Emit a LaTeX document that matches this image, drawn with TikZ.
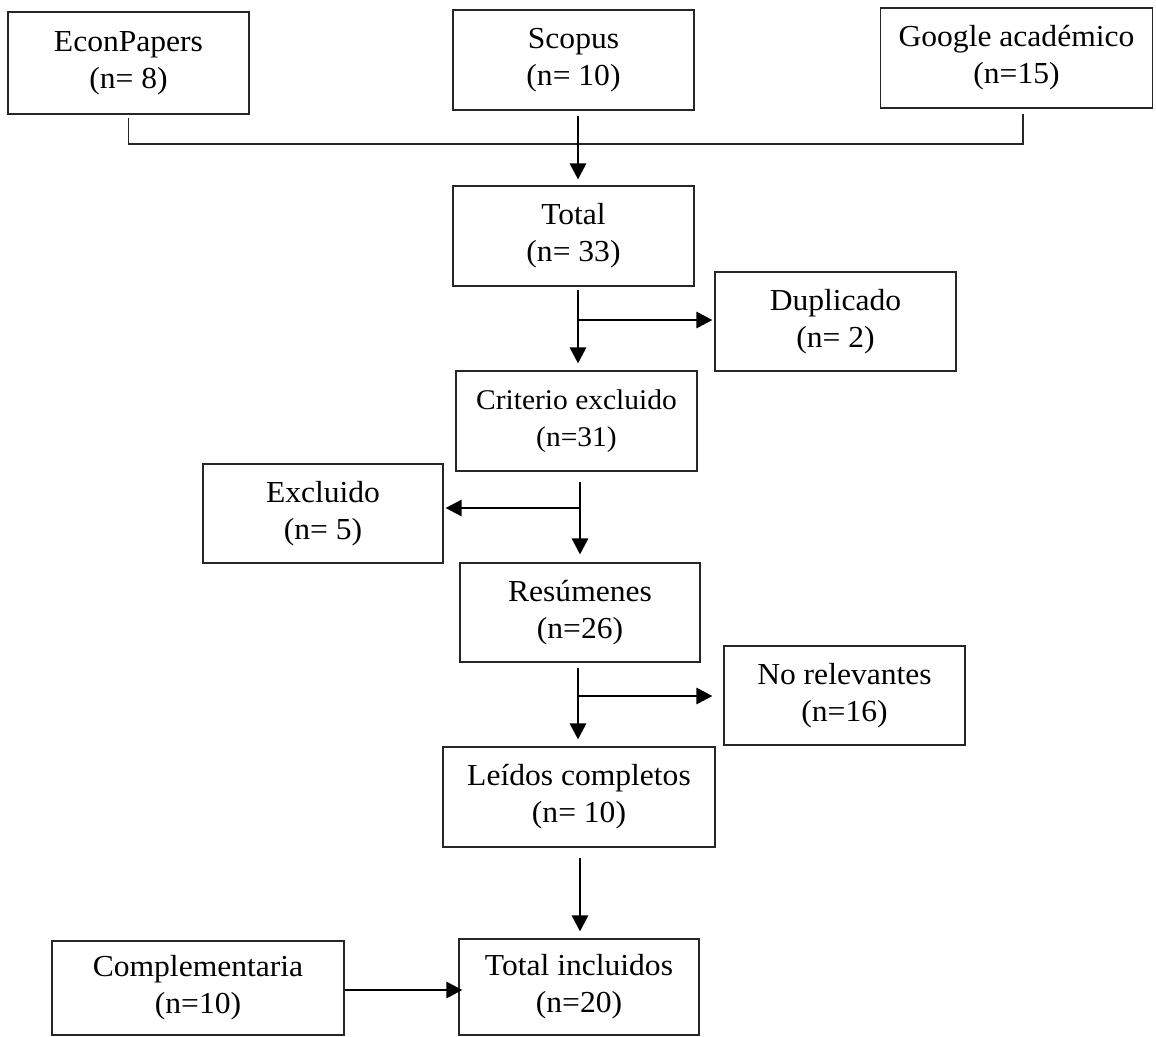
\documentclass[tikz,border=0pt]{standalone}
\usepackage{fontspec}
\setmainfont{Liberation Serif}[FakeStretch=1.035]
\usetikzlibrary{arrows.meta}
\begin{document}
\begin{tikzpicture}[x=1pt,y=-1pt,
  box/.style={draw=black!85, line width=1.1pt, inner sep=0pt, align=center,
    font=\fontsize{30.5}{37}\selectfont},
  arr/.style={line width=2.7pt, -{Triangle[length=16pt,width=16pt]}},
  link/.style={line width=1.4pt, black!85}]
\useasboundingbox (0,0) rectangle (1156,1036);
\fill[white] (0,0) rectangle (1156,1036);
% boxes
\node[box, minimum width=241pt, minimum height=102pt] (econ) at (128.5,63) {EconPapers\\(n= 8)};
\node[box, minimum width=241pt, minimum height=100pt] (scopus) at (573.5,60) {Scopus\\(n= 10)};
\node[box, minimum width=272pt, minimum height=100pt] (google) at (1016.5,58) {Google académico\\(n=15)};
\node[box, minimum width=241pt, minimum height=100pt] (total) at (573.5,236) {Total\\(n= 33)};
\node[box, minimum width=241pt, minimum height=99pt] (dup) at (835.5,321.5) {Duplicado\\(n= 2)};
\node[box, minimum width=241pt, minimum height=100pt, font=\fontsize{28.5}{37}\selectfont] (crit) at (576.5,421) {Criterio excluido\\(n=31)};
\node[box, minimum width=240pt, minimum height=99pt] (excl) at (323,513.5) {Excluido\\(n= 5)};
\node[box, minimum width=240pt, minimum height=99pt] (res) at (580,612.5) {Resúmenes\\(n=26)};
\node[box, minimum width=241pt, minimum height=99pt] (norel) at (844.5,695.5) {No relevantes\\(n=16)};
\node[box, minimum width=272pt, minimum height=100pt] (leidos) at (579,797) {Leídos completos\\(n= 10)};
\node[box, minimum width=292pt, minimum height=94pt] (comp) at (198,988) {Complementaria\\(n=10)};
\node[box, minimum width=240pt, minimum height=96pt] (totinc) at (579,987) {Total incluidos\\(n=20)};
% junction coordinates
\coordinate (jl) at (128.5,144);
\coordinate (jr) at (1023,144);
\coordinate (ax1) at (578,0);
\coordinate (ax2) at (580,0);
\coordinate (b1) at (578,320);
\coordinate (b2) at (580,508);
\coordinate (b3) at (578,696);
% top connector
\draw[link] ([yshift=-3pt]econ.south) -- (jl) -- (jr) -- ([yshift=-5pt]google.south -| jr);
\draw[arr] ([yshift=-5pt]scopus.south -| ax1) -- ([yshift=6pt]total.north -| ax1);
% total -> criterio, branch to duplicado
\draw[arr] ([yshift=-3pt]total.south -| ax1) -- ([yshift=7pt]crit.north -| ax1);
\draw[arr] (b1) -- ([xshift=-2pt]b1 -| dup.west);
% criterio -> resumenes, branch to excluido
\draw[arr] ([yshift=-10pt]crit.south -| ax2) -- ([yshift=8pt]res.north -| ax2);
\draw[arr] (b2) -- ([xshift=2pt]b2 -| excl.east);
% resumenes -> leidos, branch to no relevantes
\draw[arr] ([yshift=-5pt]res.south -| ax1) -- ([yshift=7pt]leidos.north -| ax1);
\draw[arr] (b3) -- ([xshift=-11pt]b3 -| norel.west);
% leidos -> total incluidos
\draw[arr] ([yshift=-10pt]leidos.south -| ax2) -- ([yshift=7pt]totinc.north -| ax2);
% complementaria -> total incluidos
\draw[arr] (comp.east |- 0,990) -- ([xshift=4pt]totinc.west |- 0,990);
\end{tikzpicture}
\end{document}
